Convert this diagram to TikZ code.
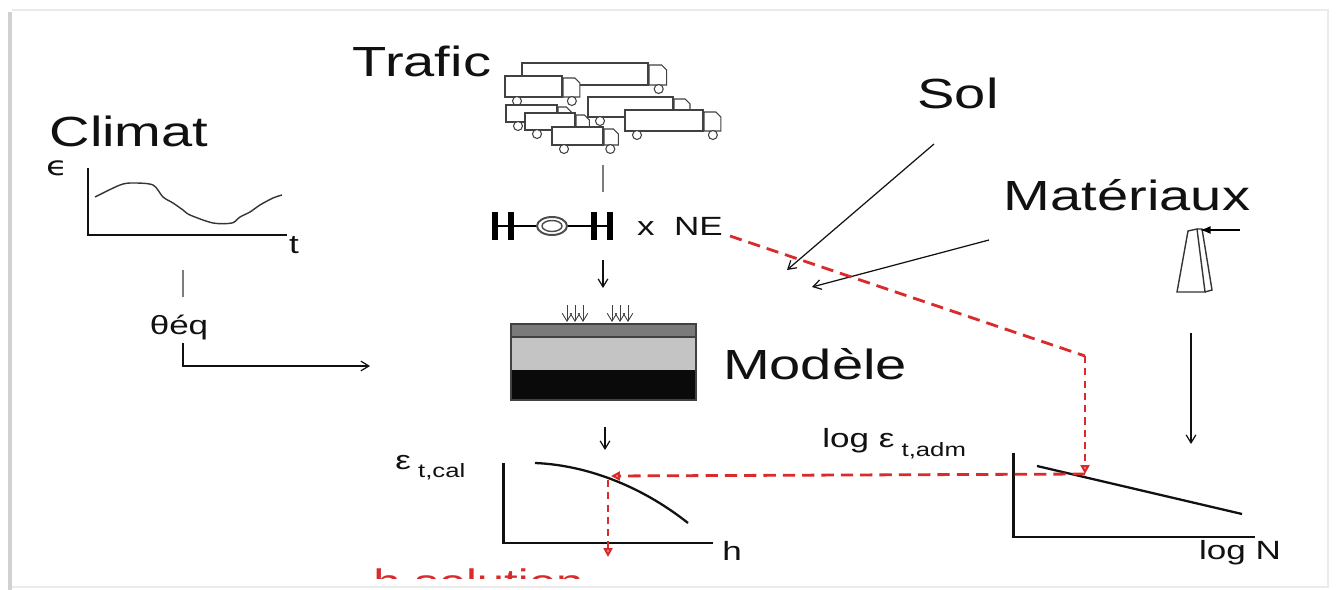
\documentclass[tikz,border=0pt]{standalone}
\usepackage{fontspec}
\setmainfont{Liberation Sans}[FakeStretch=1.33]
\newfontfamily\dejavu{DejaVu Sans}[FakeStretch=1.33]
\usepackage{tikz}
\usetikzlibrary{arrows.meta,positioning}
\usepackage{xcolor}
\definecolor{ink}{HTML}{111111}
\definecolor{alert}{HTML}{D92B2B}
\definecolor{wear}{HTML}{7A7A7A}
\definecolor{base}{HTML}{C4C4C4}
\definecolor{soil}{HTML}{0A0A0A}
\tikzset{
  >={Straight Barb[length=4.5pt,width=5.5pt]},
  every node/.style={text=ink,inner sep=0pt},
  big/.style={font=\fontsize{24}{28}\selectfont},
  mid/.style={font=\fontsize{15}{17}\selectfont},
  axis/.style={draw=ink,line width=1.7pt},
  curve/.style={draw=ink,line width=1.3pt},
  arrow/.style={->,draw=ink,line width=0.7pt},
  guide/.style={draw=ink!55,line width=0.8pt},
  feed/.style={draw=alert,line width=1.6pt,dash pattern=on 7pt off 4pt},
  feedv/.style={draw=alert,line width=1.6pt,dash pattern=on 4pt off 3pt},
  feedtip/.style={-{Triangle[open,length=5pt,width=5pt]}},
  truckline/.style={draw=ink!80,line width=0.6pt,fill=white},
}
% truck outline: top-left x, y, body length, body height
\newcommand{\truck}[4]{%
  \begin{scope}[shift={(#1,#2)}]
    \draw[truckline] (0,0) rectangle (#3,#4);
    \draw[truckline] (#3+1,2) -- (#3+0.85*#4-5,2) -- (#3+0.85*#4,7) -- (#3+0.85*#4,#4) -- (#3+1,#4) -- cycle;
    \draw[truckline] (12,#4+4) circle (4.5) (#3+0.85*#4-8,#4+4) circle (4.5);
  \end{scope}}

\begin{document}
\begin{tikzpicture}[x=0.02cm,y=-0.02cm]
  \useasboundingbox (0,0) rectangle (1337,590);
  % slide edge
  \fill[white] (0,0) rectangle (1337,590);
  \fill[black!18] (8,12) rectangle (12,590);
  \draw[black!8,line width=1pt] (12,10) -- (1328,10) -- (1328,587) -- (12,587);

  % Climat
  \node[big] (climat) at (129,131) {Climat};
  \node[font=\dejavu\fontsize{15}{17}\selectfont] (eps) at (57,168) {ϵ};
  \draw[axis,line width=1.2pt] (88,168) |- (287,235);
  \node[mid] (t) at (294,245) {t};
  \draw[ink!85,line width=0.8pt] plot[smooth] coordinates {(95,197) (120,185) (133,183) (153,185) (163,197)
    (173,203) (183,210) (190,215) (213,223) (232,223) (240,217) (250,212) (260,205) (273,198) (282,195)};
  \coordinate (clim-out) at (183,270);
  \coordinate (teq-top) at (183,297);
  \draw[guide] (clim-out) -- (teq-top);
  \node[mid] (teq) at (179,328) {θéq};
  \coordinate (teq-out) at (183,343);
  \coordinate (teq-in) at (370,366);
  \draw[arrow] (teq-out) |- (teq-in);

  % Trafic
  \node[big] (trafic) at (422,61) {Trafic};
  \truck{522}{63}{126}{22}
  \truck{505}{76}{57}{21}
  \truck{588}{97}{85}{20}
  \truck{625}{110}{78}{21}
  \truck{506}{105}{51}{17}
  \truck{525}{113}{50}{17}
  \truck{552}{127}{51}{18}
  \coordinate (fleet) at (603,165);
  \coordinate (axle-top) at (603,192);
  \draw[guide] (fleet) -- (axle-top);
  % standard axle
  \coordinate (axle) at (552,226);
  \draw[line width=3.4pt] (495,212) -- (495,240) (511,212) -- (511,240)
    (594,212) -- (594,240) (610,212) -- (610,240);
  \draw[line width=1pt] (495,226) -- (537,226) (567,226) -- (610,226);
  \draw[ink!75,line width=1.1pt] (axle) ellipse (15 and 9);
  \draw[ink!75,line width=0.8pt] (axle) ellipse (10 and 5.5);
  \node[font=\fontsize{15}{17}\selectfont] (ne) at (680,226) {x\ \ NE};
  \coordinate (axle-out) at (603,260);
  \coordinate (load) at (603,288);
  \draw[arrow] (axle-out) -- (load);

  % Modele
  \foreach \x in {567,575,583,612,620,628}
    \draw[->,ink!80,line width=0.5pt] (\x,305) -- (\x,322);
  \fill[wear] (511,324) rectangle (696,337);
  \fill[base] (511,337) rectangle (696,370);
  \fill[soil] (511,370) rectangle (696,400);
  \draw[ink!80,line width=0.8pt] (511,324) rectangle (696,400) (511,337) -- (696,337);
  \node[big] (modele) at (815,364) {Modèle};
  \coordinate (model-out) at (605,427);
  \coordinate (calc-in) at (605,450);
  \draw[arrow] (model-out) -- (calc-in);

  % strain vs thickness
  \draw[axis] (503,463) |- (713,543);
  \node[mid] (h) at (732,551) {h};
  \draw[curve] (535,463) .. controls (585,465) and (640,485) .. (688,523);
  \node[mid,anchor=base west] (ecal) at (395,469) {ε\raisebox{-5pt}{\fontsize{11}{13}\selectfont\ t,cal}};

  % Sol, Materiaux
  \node[big] (sol) at (958,93) {Sol};
  \coordinate (sol-out) at (934,144);
  \coordinate (sol-in) at (787,270);
  \draw[arrow] (sol-out) -- (sol-in);
  \node[big] (mat) at (1127,195) {Matériaux};
  \coordinate (mat-out) at (989,240);
  \coordinate (mat-in) at (812,287);
  \draw[arrow] (mat-out) -- (mat-in);
  % fatigue specimen
  \draw[ink!85,line width=0.8pt] (1177,292) -- (1188,231) -- (1197,229) -- (1205,292) -- cycle;
  \draw[ink!85,line width=0.8pt] (1197,229) -- (1202,229) -- (1212,290) -- (1205,292);
  \coordinate (push) at (1240,230);
  \coordinate (head) at (1200,230);
  \draw[-{Latex[length=6pt]},line width=0.9pt] (push) -- (head);
  \coordinate (spec-out) at (1191,333);
  \coordinate (fat-in) at (1191,444);
  \draw[arrow] (spec-out) -- (fat-in);

  % fatigue law
  \draw[axis] (1013,453) |- (1255,537);
  \draw[curve] (1037,466) -- (1242,514);
  \node[mid] (logn) at (1240,553) {log N};
  \node[mid,anchor=base west] (eadm) at (822,448) {log ε\raisebox{-5pt}{\fontsize{11}{13}\selectfont\ t,adm}};

  % design loop
  \coordinate (ne-out) at (730,236);
  \coordinate (bend) at (1085,356);
  \coordinate (adm) at (1085,474);
  \coordinate (cal) at (611,476);
  \coordinate (cal-down) at (608,480);
  \coordinate (hsol) at (608,557);
  \draw[feed] (ne-out) -- (bend);
  \draw[feedv,feedtip] (bend) -- (adm);
  \draw[feed,feedtip] (adm) -- (cal);
  \draw[feedv,feedtip] (cal-down) -- (hsol);
  \begin{scope}
    \clip (360,540) rectangle (700,578);
    \node[font=\fontsize{21}{25}\selectfont,text=alert,anchor=base west] (hsolution) at (373,595) {h solution};
  \end{scope}
\end{tikzpicture}
\end{document}
